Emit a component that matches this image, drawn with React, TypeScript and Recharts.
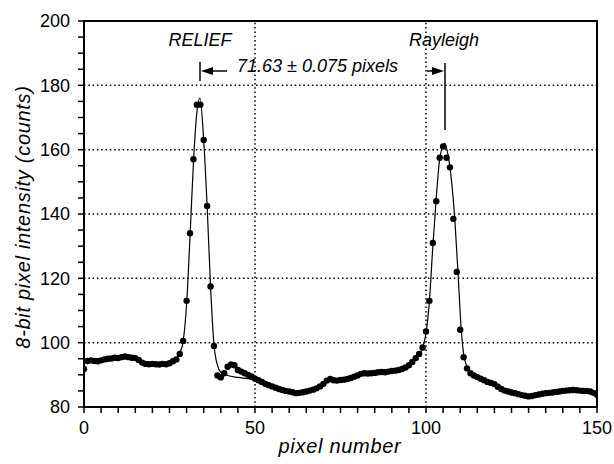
import {
  ComposedChart,
  Scatter,
  Line,
  XAxis,
  YAxis,
  ReferenceLine,
  ReferenceArea,
  Customized,
} from "recharts";

// measured intensity, one value per pixel (pixel 0 .. 150)
const intensity = [
  91.8, 94.3, 94.5, 94.3, 94.2, 94.5, 94.8, 95, 95.1, 95.3,
  95.2, 95.5, 95.7, 95.5, 95.3, 95.2, 94.6, 93.8, 93.4, 93.3,
  93.4, 93.3, 93.2, 93.4, 93.3, 93.6, 94.2, 94.8, 96.5, 100.5,
  113, 134, 157, 174, 174, 163, 142.5, 117.5, 99, 89.8,
  89.2, 90.5, 92.5, 93.2, 93, 91.5, 91, 90.5, 90, 89.5,
  88.8, 88.3, 87.8, 87.2, 86.8, 86.4, 86, 85.6, 85.3, 85,
  84.8, 84.6, 84.3, 84.4, 84.6, 84.8, 85.1, 85.4, 85.8, 86.4,
  87.2, 88.2, 88.7, 88.3, 88.2, 88.4, 88.5, 88.7, 89, 89.4,
  89.8, 90.3, 90.5, 90.4, 90.5, 90.6, 90.8, 90.9, 90.8, 91,
  91.2, 91.3, 91.5, 91.8, 92.3, 93, 94, 95.2, 96.5, 98.5,
  103.5, 113, 131, 144, 157.5, 161, 157.5, 154.5, 138.5, 122,
  104, 95.5, 92, 90.5, 89.8, 89.3, 88.8, 88.3, 87.8, 87.5,
  87.1, 86.3, 85.6, 85.1, 84.8, 84.5, 84.3, 84, 83.7, 83.5,
  83.3, 83.4, 83.7, 83.9, 84.1, 84.3, 84.4, 84.5, 84.7, 84.8,
  85, 85.1, 85.2, 85.3, 85.2, 85.1, 85, 85, 84.8, 84.4,
  83.8,
];

// fitted peak profiles (pixel, counts)
const reliefFitX = [24, 26, 27, 28, 29, 30, 31, 32, 33, 33.9, 35, 36, 37, 38, 39, 40, 42, 45, 48, 51];
const reliefFitY = [93.5, 94.2, 95, 96.8, 100.5, 112, 133, 156, 171.5, 176, 163, 142.5, 117.5, 99.5, 93, 90.8, 89.8, 89.2, 88.8, 88.2];

const rayleighFitX = [94, 96, 98, 99, 100, 101, 102, 103, 104, 105.5, 106.5, 107.5, 108.5, 109.5, 110.3, 111, 112, 113, 115, 118, 121];
const rayleighFitY = [92.2, 93.8, 96.3, 98.5, 103, 113, 130, 145, 157, 162, 158, 150, 137, 119, 104, 96.5, 92.5, 90.8, 89.5, 88.2, 86.8];

const xTicks = [0, 5, 10, 15, 20, 25, 30, 35, 40, 45, 50, 55, 60, 65, 70, 75, 80, 85, 90, 95, 100, 105, 110, 115, 120, 125, 130, 135, 140, 145, 150];
const xMajor = [0, 50, 100, 150];
const yTicks = [80, 85, 90, 95, 100, 105, 110, 115, 120, 125, 130, 135, 140, 145, 150, 155, 160, 165, 170, 175, 180, 185, 190, 195, 200];
const yMajor = [80, 100, 120, 140, 160, 180, 200];
const gridX = [50, 100];
const gridY = [100, 120, 140, 160, 180];

const points = intensity.map((v, i) => ({ x: i, y: v }));
const reliefFit = reliefFitX.map((x, i) => ({ x, y: reliefFitY[i] }));
const rayleighFit = rayleighFitX.map((x, i) => ({ x, y: rayleighFitY[i] }));

const W = 614;
const H = 464;
const TOP = 21;
const RIGHT = 17;
const LEFT_W = 84;
const BOTTOM_H = 57;
const MINOR = 6;
const MAJOR = 11;

const FONT = "'Liberation Sans', Arial, Helvetica, sans-serif";

const renderXTick = (props: any) => {
  const v = props.payload.value;
  if (v % 50 !== 0) return <g key={"xt" + v} />;
  return (
    <text key={"xt" + v} x={props.x} y={Number(props.y) + 21} textAnchor="middle" fontSize={18} fontFamily={FONT} fill="#000">
      {v}
    </text>
  );
};

const renderYTick = (props: any) => {
  const v = props.payload.value;
  if (v % 20 !== 0) return <g key={"yt" + v} />;
  return (
    <text key={"yt" + v} x={Number(props.x) - 8} y={props.y} dy="0.36em" textAnchor="end" fontSize={18} fontFamily={FONT} fill="#000">
      {v}
    </text>
  );
};

const Dot = (props: any) => <circle cx={props.cx} cy={props.cy} r={3.2} fill="#000" />;

const Annotations = () => (
  <g fontFamily={FONT} fill="#000" fontStyle="italic">
    <text x={200} y={46} textAnchor="middle" fontSize={18}>RELIEF</text>
    <text x={444} y={46} textAnchor="middle" fontSize={18}>Rayleigh</text>
    <text x={237} y={72} fontSize={18}>71.63 ± 0.075 pixels</text>
    {/* left marker + arrow */}
    <line x1={200} x2={200} y1={62} y2={81} stroke="#000" strokeWidth={1.5} />
    <line x1={210} x2={227} y1={71} y2={71} stroke="#000" strokeWidth={1.5} />
    <polygon points="201,71 213,67 213,75" fill="#000" />
    {/* right marker + arrow */}
    <line x1={445} x2={445} y1={63} y2={130} stroke="#000" strokeWidth={1.5} />
    <line x1={427} x2={435} y1={71} y2={71} stroke="#000" strokeWidth={1.5} />
    <polygon points="444,71 432,67 432,75" fill="#000" />
    <text x={340} y={453} textAnchor="middle" fontSize={20} letterSpacing={0.7}>pixel number</text>
    <text
      x={30}
      y={217}
      textAnchor="middle"
      fontSize={20}
      letterSpacing={0.7}
      transform="rotate(-90 30 217)"
    >
      8-bit pixel intensity (counts)
    </text>
  </g>
);

const tickStroke = { stroke: "#000", strokeWidth: 1.5 };

// tick-only axes (no labels, no space taken)
const bare = {
  type: "number" as const,
  interval: 0 as const,
  axisLine: false,
  tickLine: tickStroke,
  tick: false,
  allowDataOverflow: true,
};

export default function App() {
  return (
    <div style={{ position: "absolute", left: 0, top: 0, background: "#fff" }}>
      <ComposedChart
        width={W}
        height={H}
        margin={{ top: TOP, right: RIGHT, left: 0, bottom: 0 }}
      >
        {/* long ticks at labelled values */}
        <XAxis {...bare} xAxisId="bMajor" dataKey="x" domain={[0, 150]} ticks={xMajor} height={0} tickSize={MAJOR} />
        <XAxis {...bare} xAxisId="tMajor" orientation="top" dataKey="x" domain={[0, 150]} ticks={xMajor} height={0} tickSize={MAJOR} />
        <XAxis {...bare} xAxisId="top" orientation="top" dataKey="x" domain={[0, 150]} ticks={xTicks} height={0} tickSize={MINOR} />
        <YAxis {...bare} yAxisId="lMajor" dataKey="y" domain={[80, 200]} ticks={yMajor} width={0} tickSize={MAJOR} />
        <YAxis {...bare} yAxisId="rMajor" orientation="right" dataKey="y" domain={[80, 200]} ticks={yMajor} width={0} tickSize={MAJOR} />
        <YAxis {...bare} yAxisId="right" orientation="right" dataKey="y" domain={[80, 200]} ticks={yTicks} width={0} tickSize={MINOR} />
        <XAxis
          type="number"
          dataKey="x"
          domain={[0, 150]}
          ticks={xTicks}
          interval={0}
          height={BOTTOM_H}
          axisLine={false}
          tickLine={tickStroke}
          tickSize={MINOR}
          tickMargin={0}
          tick={renderXTick}
          allowDataOverflow
        />
        <YAxis
          type="number"
          dataKey="y"
          domain={[80, 200]}
          ticks={yTicks}
          interval={0}
          width={LEFT_W}
          axisLine={false}
          tickLine={tickStroke}
          tickSize={MINOR}
          tickMargin={0}
          tick={renderYTick}
          allowDataOverflow
        />
        {gridY.map((v) => (
          <ReferenceLine key={"gy" + v} y={v} stroke="#000" strokeWidth={1.5} strokeDasharray="1.5 2.8" />
        ))}
        {gridX.map((v) => (
          <ReferenceLine key={"gx" + v} x={v} stroke="#000" strokeWidth={1.5} strokeDasharray="1.5 2.8" />
        ))}
        <ReferenceArea x1={0} x2={150} y1={80} y2={200} fill="none" stroke="#000" strokeWidth={2} />
        <Scatter data={points} shape={Dot} isAnimationActive={false} />
        <Line
          data={reliefFit}
          dataKey="y"
          type="monotone"
          stroke="#000"
          strokeWidth={1.2}
          dot={false}
          isAnimationActive={false}
        />
        <Line
          data={rayleighFit}
          dataKey="y"
          type="monotone"
          stroke="#000"
          strokeWidth={1.2}
          dot={false}
          isAnimationActive={false}
        />
        <Customized component={Annotations} />
      </ComposedChart>
    </div>
  );
}
